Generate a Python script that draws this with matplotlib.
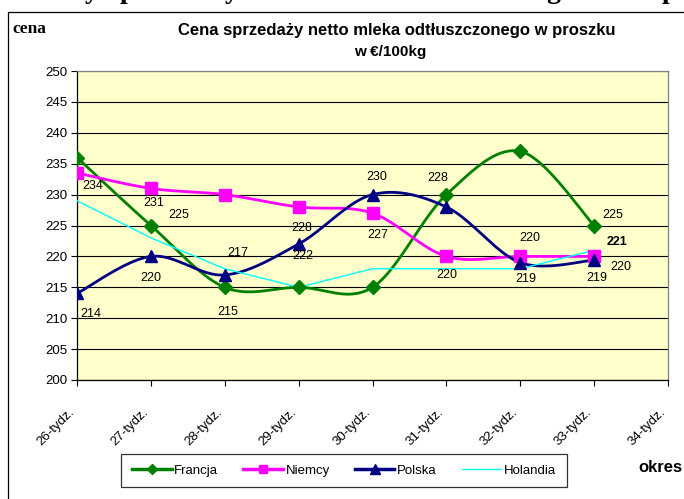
import numpy as np
import matplotlib
matplotlib.use("Agg")
import matplotlib.pyplot as plt
from matplotlib.lines import Line2D
from matplotlib.patches import Rectangle

##### DATA #####
weeks = ["26-tydz.", "27-tydz.", "28-tydz.", "29-tydz.", "30-tydz.",
         "31-tydz.", "32-tydz.", "33-tydz.", "34-tydz."]
francja = [236, 225, 215, 215, 215, 230, 237, 225]
niemcy = [233.5, 231, 230, 228, 227, 220, 220, 220]
polska = [214, 220, 217, 222, 230, 228, 219, 219.4]
holandia = [229, 223, 218, 215, 218, 218, 218, 221]
y_ticks = list(range(200, 251, 5))

# which points carry a value label, and where it sits (pixels right / down)
label_pos = {
    "Francja": {1: (28, -11), 2: (3, 25), 7: (19, -11)},
    "Niemcy": {0: (16, 13), 1: (3, 15), 3: (3, 21), 4: (5, 22), 5: (0, 19),
               6: (10, -18), 7: (27, 11)},
    "Polska": {0: (14, 21), 1: (0, 22), 2: (13, -22), 3: (4, 12), 4: (4, -18),
               5: (-9, -29), 6: (6, 16), 7: (3, 18)},
    "Holandia": {7: (23, -8)},
}

FONT = "Liberation Sans"


# Excel-like smoothed line (cubic bezier, catmull-rom control points)
def smooth(x, y, n=25):
    pts = np.column_stack([x, y]).astype(float)
    p = np.vstack([pts[0], pts, pts[-1]])
    t = np.linspace(0, 1, n)[:, None]
    out = []
    for i in range(1, len(p) - 2):
        p0, p1, p2, p3 = p[i - 1], p[i], p[i + 1], p[i + 2]
        c1 = p1 + (p2 - p0) / 6
        c2 = p2 - (p3 - p1) / 6
        seg = (1 - t) ** 3 * p1 + 3 * (1 - t) ** 2 * t * c1 + 3 * (1 - t) * t ** 2 * c2 + t ** 3 * p2
        out.append(seg if i == 1 else seg[1:])
    return np.vstack(out)


fig = plt.figure(figsize=(6.84, 4.99), dpi=100)
W, H = 684, 499
ax = fig.add_axes([77 / W, 1 - 380 / H, (668 - 77) / W, (380 - 71) / H])
ax.set_facecolor("#FFFFCC")

x = np.arange(len(francja))
series = [
    ("Francja", francja, "#008000", "D", 7, 2.0, True),
    ("Niemcy", niemcy, "#FF00FF", "s", 8, 2.0, True),
    ("Polska", polska, "#000080", "^", 8.5, 2.0, True),
    ("Holandia", holandia, "#00FFFF", None, 0, 1.0, False),
]

handles = []
for name, vals, col, mk, ms, lw, smoothed in series:
    if smoothed:
        c = smooth(x, vals)
        ax.plot(c[:, 0], c[:, 1], color=col, lw=lw, zorder=3)
    else:
        ax.plot(x, vals, color=col, lw=lw, zorder=3)
    if mk:
        ax.plot(x, vals, ls="none", marker=mk, ms=ms, color=col, zorder=4)
    handles.append(Line2D([], [], color=col, lw=lw + 0.5 if mk else lw, marker=mk, ms=ms * 0.8))
    for i, (dx, dy) in label_pos[name].items():
        ax.annotate(f"{vals[i]:.0f}", (x[i], vals[i]), xytext=(dx, -dy),
                    textcoords="offset pixels", ha="center", va="center",
                    fontsize=9, family=FONT,
                    fontweight="bold" if name == "Holandia" else "normal", zorder=5)

ax.set_xlim(0, len(weeks) - 1)
ax.set_ylim(200, 250)
ax.set_yticks(y_ticks)
ax.set_yticklabels([str(v) for v in y_ticks], fontsize=9.5, family=FONT)
ax.set_xticks(range(len(weeks)))
ax.set_xticklabels(weeks, rotation=45, ha="right", va="top", fontsize=9.5, family=FONT)
ax.tick_params(axis="y", length=4, width=0.8, pad=3, direction="out")
ax.tick_params(axis="x", length=4, width=0.8, pad=15, direction="out")
ax.grid(axis="y", color="black", lw=0.8)
ax.set_axisbelow(True)
for s in ["top", "right"]:
    ax.spines[s].set_color("#808080")
for s in ["left", "bottom"]:
    ax.spines[s].set_color("black")
for s in ax.spines.values():
    s.set_linewidth(0.9)

# outer chart border
fig.patches.append(Rectangle((8 / W, -0.5), 2, 0.5 + 1 - 12 / H, transform=fig.transFigure,
                             fill=False, edgecolor="black", lw=0.9))

# cut-off heading of the page above the chart (only descenders visible)
for ch, xp in [("y", 92), ("p", 127), ("y", 232), ("g", 553), ("p", 669)]:
    fig.text(xp / W, 1 + 2 / H, ch, fontsize=20, family="Liberation Serif",
             fontweight="bold", ha="center", va="baseline")

fig.text(397 / W, 1 - 30 / H, "Cena sprzedaży netto mleka odtłuszczonego w proszku",
         fontsize=12, family=FONT, fontweight="bold", ha="center", va="center")
fig.text(390 / W, 1 - 52 / H, "w €/100kg", fontsize=11, family=FONT,
         fontweight="bold", ha="center", va="center")
fig.text(12 / W, 1 - 29 / H, "cena", fontsize=12.5, family="Liberation Serif",
         fontweight="bold", ha="left", va="center")
fig.text(660 / W, 1 - 468 / H, "okres", fontsize=12, family=FONT,
         fontweight="bold", ha="center", va="center")

leg = fig.legend(handles, [s[0] for s in series], loc="center",
                 bbox_to_anchor=(344 / W, 1 - 470.5 / H), ncol=4,
                 prop={"family": FONT, "size": 9.5}, frameon=True, fancybox=False,
                 edgecolor="black", handlelength=3.0, handletextpad=0.2,
                 columnspacing=1.9, borderpad=0.8, numpoints=1)
leg.get_frame().set_linewidth(0.9)

fig.savefig("out.png", dpi=100)
